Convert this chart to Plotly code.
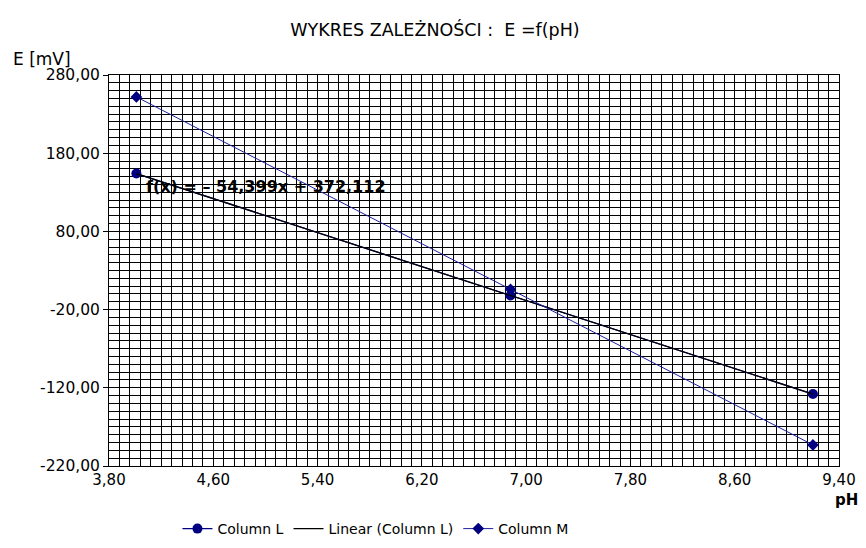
import numpy as np
import plotly.graph_objects as go

# Data
ph = [4.01, 6.88, 9.20]
col_l = [154.0, -2.0, -128.0]
col_m = [252.0, 6.0, -193.0]

x_ticks = [3.8, 4.6, 5.4, 6.2, 7.0, 7.8, 8.6, 9.4]
x_ticktext = ["3,80", "4,60", "5,40", "6,20", "7,00", "7,80", "8,60", "9,40"]
y_ticks = [280, 180, 80, -20, -120, -220]
y_ticktext = ["280,00", "180,00", "80,00", "-20,00", "-120,00", "-220,00"]

title_text = "WYKRES ZALEŻNOŚCI :  E =f(pH)"
eq_text = "f(x) = – 54,399x + 372,112"

slope, intercept = np.polyfit(ph, col_l, 1)
trend_x = [min(ph), max(ph)]
trend_y = [slope * v + intercept for v in trend_x]

FONT = "DejaVu Sans"
NAVY = "#000080"

# page body has an 8px default margin
W, H = 858, 532

fig = go.Figure()
fig.add_trace(go.Scatter(
    x=ph, y=col_l, mode="lines+markers", name="Column L",
    line=dict(color=NAVY, width=1.3),
    marker=dict(symbol="circle", size=10, color=NAVY),
))
fig.add_trace(go.Scatter(
    x=trend_x, y=trend_y, mode="lines", name="Linear (Column L)",
    line=dict(color="#000000", width=1.3),
))
fig.add_trace(go.Scatter(
    x=ph, y=col_m, mode="lines+markers", name="Column M",
    line=dict(color="#1f1fa0", width=1),
    marker=dict(symbol="diamond", size=9, color=NAVY),
))

fig.update_layout(
    width=W, height=H,
    margin=dict(l=101, r=27, t=67, b=74, autoexpand=False),
    paper_bgcolor="white", plot_bgcolor="white",
    font=dict(family=FONT, color="#000000", size=15),
    title=dict(text=title_text, x=(435 - 8) / W, xanchor="center",
               y=1 - 16 / H, yanchor="top", yref="container",
               font=dict(family=FONT, size=17.5, color="#000000")),
    showlegend=True,
    legend=dict(orientation="h", x=0.365, xanchor="center",
                y=(H - 521) / H, yanchor="middle", yref="container",
                font=dict(family=FONT, size=14, color="#000000"),
                bgcolor="rgba(0,0,0,0)", itemwidth=30),
    xaxis=dict(range=[3.8, 9.4], tickvals=x_ticks, ticktext=x_ticktext,
               automargin=False,
               showgrid=True, gridcolor="black", gridwidth=1,
               minor=dict(tick0=3.8, dtick=0.08, showgrid=True,
                          gridcolor="black", gridwidth=1),
               showline=True, linecolor="black", linewidth=1, mirror=True,
               zeroline=False, ticks="", tickfont=dict(size=15)),
    yaxis=dict(range=[-220, 280], tickvals=y_ticks, ticktext=y_ticktext,
               automargin=False,
               showgrid=True, gridcolor="black", gridwidth=1,
               minor=dict(tick0=-220, dtick=10, showgrid=True,
                          gridcolor="black", gridwidth=1),
               showline=True, linecolor="black", linewidth=1, mirror=True,
               zeroline=False, ticks="outside", ticklen=5, tickcolor="black",
               tickfont=dict(size=15.5)),
    annotations=[
        dict(text="E [mV]", xref="paper", yref="paper",
             x=(11 - 109) / 730, y=(466 - 59) / 391,
             xanchor="left", yanchor="middle", showarrow=False,
             font=dict(family=FONT, size=17, color="#000000")),
        dict(text="<b>pH</b>", xref="paper", yref="paper",
             x=(833 - 109) / 730, y=(466 - 500) / 391,
             xanchor="left", yanchor="middle", showarrow=False,
             font=dict(family=FONT, size=15, color="#000000")),
        dict(text="<b>" + eq_text + "</b>", xref="x", yref="y",
             x=4.07, y=137, xanchor="left", yanchor="middle", showarrow=False,
             font=dict(family=FONT, size=16, color="#000000")),
    ],
)

fig.write_html("out.html")
